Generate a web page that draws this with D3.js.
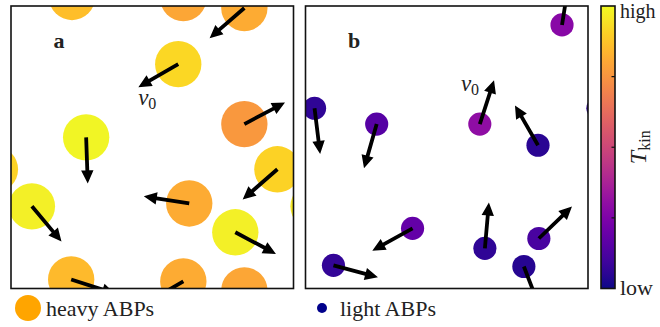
<!DOCTYPE html>
<html>
<head>
<meta charset="utf-8">
<script src="https://cdn.jsdelivr.net/npm/d3@7"></script>
<style>
  html, body { margin: 0; padding: 0; background: #fff; }
</style>
</head>
<body>
<svg id="chart" width="660" height="327"></svg>
<script>
// ---- Data (box coordinates 0..10, angle in degrees, T = normalised kinetic temperature) ----
const panelLabels = ["a", "b"];
const heavyX     = [2.16, 6.10, 8.26, 5.92, 8.26, 2.66, -0.57, 0.74, 9.43, 6.31, 7.94, 10.71, 2.13, 6.10, 8.26];
const heavyY     = [10.32, 10.28, 9.93, 7.94, 5.82, 5.35, 4.22, 2.91, 4.22, 3.01, 1.99, 2.91, 0.32, 0.25, -0.07];
const heavyAngle = [95, 80, 221, 210, 28, 272, 180, 310, 221, 171, 332, 0, 342, 210, 270];
const heavyT     = [0.86, 0.80, 0.81, 0.92, 0.76, 0.99, 0.91, 0.98, 0.91, 0.81, 0.98, 0.96, 0.85, 0.81, 0.80];

const lightX     = [9.08, 0.32, 2.52, 6.17, 8.23, 10.35, 3.79, 0.99, 6.35, 8.26, 7.73];
const lightY     = [9.33, 6.38, 5.82, 5.82, 5.07, 6.38, 2.13, 0.82, 1.42, 1.77, 0.78];
const lightAngle = [81, 277, 254, 72, 120, 0, 209, 345, 85, 44, 291];
const lightT     = [0.28, 0.06, 0.15, 0.30, 0.05, 0.06, 0.18, 0.07, 0.06, 0.12, 0.04];

const boxSize = 10;
const v0 = 1.63;           // arrow length (box units)
const heavyRadius = 0.82;  // box units
const lightRadius = 0.41;
const colorbarTicks = [0, 0.25, 0.5, 0.75, 1];
const colorbarTickLabels = {0: "low", 1: "high"};
const legendLabels = ["heavy ABPs", "light ABPs"];
const legendColors = ["#ffa500", "#00008b"];

// ---- Layout ----
const FONT = '"Liberation Serif"';
const svg = d3.select("#chart");
const panelTop = 6, panelSize = 282.5;
const panelLefts = [11, 305.5];

const xs = d3.scaleLinear().domain([0, boxSize]).range([0, panelSize]);
const ys = d3.scaleLinear().domain([0, boxSize]).range([panelSize, 0]);
const color = d3.scaleSequential(d3.interpolatePlasma).domain([0, 1]);

const defs = svg.append("defs");
defs.append("clipPath").attr("id", "panelclip")
  .append("rect").attr("x", 0).attr("y", 0).attr("width", panelSize).attr("height", panelSize);

function arrowPath(d) {
  const x0 = xs(d.x), y0 = ys(d.y);
  const a = d.angle * Math.PI / 180;
  const x1 = xs(d.x + v0 * Math.cos(a)), y1 = ys(d.y + v0 * Math.sin(a));
  const ux = (x1 - x0), uy = (y1 - y0);
  const len = Math.hypot(ux, uy);
  const dx = ux / len, dy = uy / len;
  const hl = 13, hw = 6.2, lw = 1.9;
  const bx = x1 - dx * hl, by = y1 - dy * hl;
  const px = -dy, py = dx;
  const pts = [
    [x0 + px * lw, y0 + py * lw],
    [bx + px * lw, by + py * lw],
    [bx + px * hw, by + py * hw],
    [x1, y1],
    [bx - px * hw, by - py * hw],
    [bx - px * lw, by - py * lw],
    [x0 - px * lw, y0 - py * lw]
  ];
  return "M" + pts.map(p => p[0].toFixed(2) + "," + p[1].toFixed(2)).join("L") + "Z";
}

const panels = [
  {x: heavyX, y: heavyY, angle: heavyAngle, T: heavyT, r: heavyRadius},
  {x: lightX, y: lightY, angle: lightAngle, T: lightT, r: lightRadius}
];

function txt(sel) {
  return sel.style("font-family", FONT).style("fill", "#222");
}

panels.forEach((p, i) => {
  const g = svg.append("g").attr("transform", `translate(${panelLefts[i]},${panelTop})`);
  const data = p.x.map((x, k) => ({x: x, y: p.y[k], angle: p.angle[k], T: p.T[k]}));
  const inner = g.append("g").attr("clip-path", "url(#panelclip)");
  inner.selectAll("circle").data(data).join("circle")
    .attr("cx", d => xs(d.x)).attr("cy", d => ys(d.y))
    .attr("r", xs(p.r) - xs(0))
    .attr("fill", d => color(d.T));
  inner.selectAll("path.arrow").data(data).join("path")
    .attr("class", "arrow")
    .attr("d", arrowPath)
    .attr("fill", "#000");
  g.append("rect").attr("x", 0).attr("y", 0).attr("width", panelSize).attr("height", panelSize)
    .attr("fill", "none").attr("stroke", "#111").attr("stroke-width", 1.6);
  txt(g.append("text")).attr("x", xs(1.5)).attr("y", ys(8.5))
    .style("font-size", "22px").style("font-weight", "bold").text(panelLabels[i]);
});

// v0 annotations
function v0Label(px, py) {
  const t = txt(svg.append("text")).attr("x", px).attr("y", py).style("font-size", "23px");
  t.append("tspan").style("font-style", "italic").text("v");
  t.append("tspan").style("font-size", "16px").attr("dy", 4).text("0");
}
v0Label(panelLefts[0] + xs(4.5), panelTop + ys(6.5));
v0Label(panelLefts[1] + xs(5.5), panelTop + ys(6.98));

// ---- Colorbar ----
const cbX = 601, cbW = 14;
const cbScale = d3.scaleLinear().domain([0, 1]).range([panelTop + panelSize, panelTop]);
const grad = defs.append("linearGradient").attr("id", "plasmaGrad")
  .attr("x1", 0).attr("y1", 1).attr("x2", 0).attr("y2", 0);
d3.range(0, 1.0001, 0.05).forEach(t => {
  grad.append("stop").attr("offset", t).attr("stop-color", color(t));
});
svg.append("rect").attr("x", cbX).attr("y", panelTop).attr("width", cbW).attr("height", panelSize)
  .attr("fill", "url(#plasmaGrad)").attr("stroke", "#111").attr("stroke-width", 1.6);
svg.selectAll("line.cbtick").data(colorbarTicks.filter(t => t > 0 && t < 1)).join("line")
  .attr("class", "cbtick")
  .attr("x1", cbX + cbW - 3.5).attr("x2", cbX + cbW)
  .attr("y1", d => cbScale(d)).attr("y2", d => cbScale(d))
  .attr("stroke", "#111").attr("stroke-width", 1.2);
txt(svg.selectAll("text.cblabel").data(colorbarTicks.filter(t => colorbarTickLabels[t])).join("text"))
  .attr("class", "cblabel")
  .attr("x", cbX + cbW + 5)
  .attr("y", d => cbScale(d) + (d === 1 ? 12 : 6))
  .style("font-size", d => d === 1 ? "20px" : "22px")
  .text(d => colorbarTickLabels[d]);
const tk = txt(svg.append("text"))
  .attr("transform", `translate(${cbX + cbW + 31},${cbScale(0.5)}) rotate(-90)`)
  .attr("text-anchor", "middle").style("font-size", "24px");
tk.append("tspan").style("font-style", "italic").text("T");
tk.append("tspan").style("font-size", "16px").attr("dy", 4).text("kin");

// ---- Legend ----
const legendY = 308;
const legendItems = [
  {x: 28, r: 13, tx: 46, label: legendLabels[0], color: legendColors[0]},
  {x: 322, r: 5, tx: 340, label: legendLabels[1], color: legendColors[1]}
];
legendItems.forEach(it => {
  svg.append("circle").attr("cx", it.x).attr("cy", legendY).attr("r", it.r).attr("fill", it.color);
  txt(svg.append("text")).attr("x", it.tx).attr("y", legendY + 8)
    .style("font-size", "22px").text(it.label);
});
</script>
</body>
</html>
